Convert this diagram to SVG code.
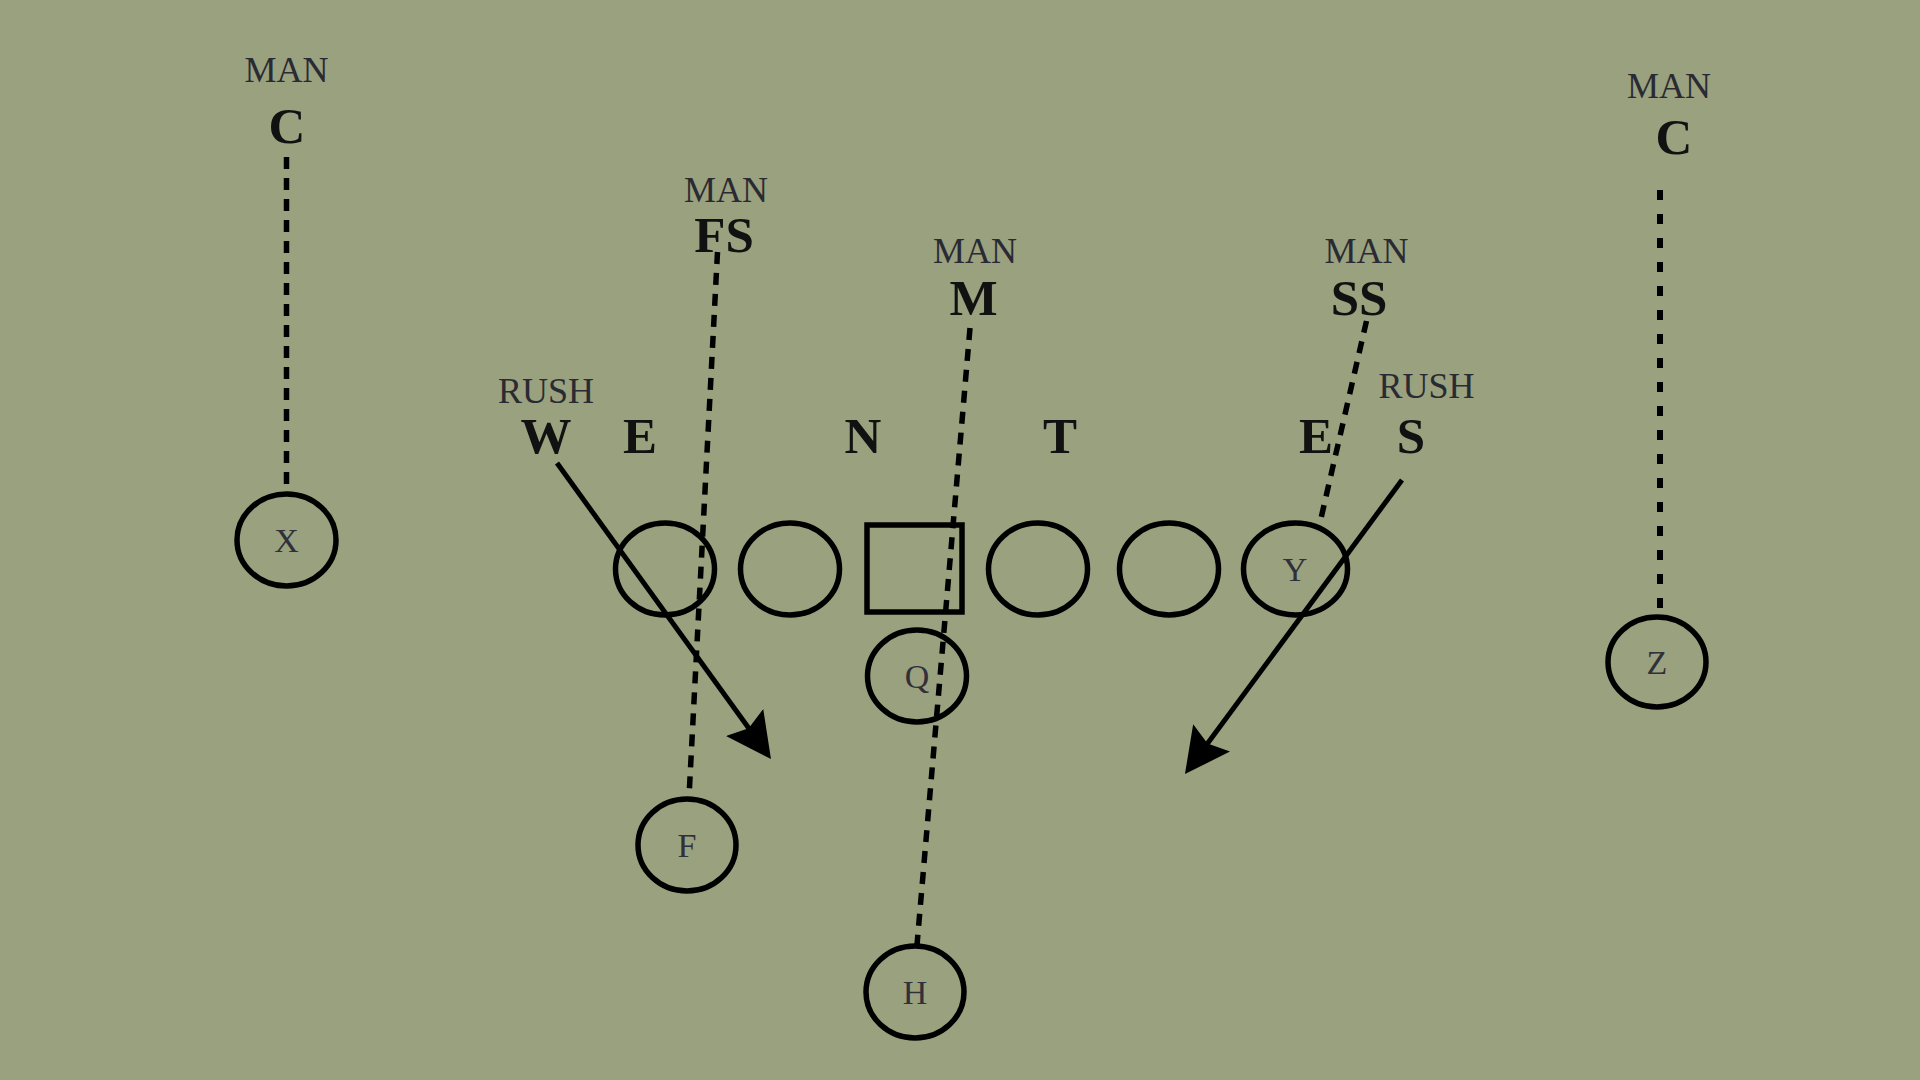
<svg xmlns="http://www.w3.org/2000/svg" width="1920" height="1080" viewBox="0 0 1920 1080">
<defs>
<style>
.bg{fill:#9aa17e}
.p{fill:none;stroke:#000;stroke-width:5.5}
.cap{font-family:"Liberation Serif",serif;font-size:36px;fill:#2a2a33;text-anchor:middle}
.pos{font-family:"Liberation Serif",serif;font-size:51px;font-weight:bold;fill:#111;text-anchor:middle}
.lbl{font-family:"Liberation Serif",serif;font-size:34px;fill:#30303a;text-anchor:middle}
.dash{fill:none;stroke:#000;stroke-width:5.5;stroke-dasharray:12 9}
.dot{fill:none;stroke:#000;stroke-width:6;stroke-dasharray:10 14}
.arr{fill:none;stroke:#000;stroke-width:5;marker-end:url(#ah)}
</style>
<marker id="ah" viewBox="0 0 45 46" refX="35" refY="23" markerWidth="45" markerHeight="46" markerUnits="userSpaceOnUse" orient="auto">
<path d="M0,0 L45,23 L0,46 L7,23 z" fill="#000"/>
</marker>
</defs>
<rect class="bg" x="0" y="0" width="1920" height="1080"/>

<g id="connectors">
<line class="dash" x1="286.5" y1="157" x2="286.5" y2="492"/>
<line class="dash" x1="717.5" y1="252" x2="689" y2="797"/>
<line class="dash" x1="970" y1="328" x2="917" y2="945"/>
<line class="dash" x1="1366.5" y1="321" x2="1319" y2="527"/>
<line class="dot" x1="1660" y1="190" x2="1660" y2="610"/>
<line class="arr" x1="557" y1="463" x2="765.1" y2="750.9"/>
<line class="arr" x1="1402" y1="480" x2="1190.9" y2="766"/>
</g>

<g id="cb-left">
<text class="cap" x="286.5" y="82">MAN</text>
<text class="pos" x="287" y="143">C</text>
</g>
<g id="fs">
<text class="cap" x="726" y="202">MAN</text>
<text class="pos" x="724" y="252">FS</text>
</g>
<g id="mlb">
<text class="cap" x="975" y="263">MAN</text>
<text class="pos" x="973.5" y="315">M</text>
</g>
<g id="ss">
<text class="cap" x="1366.5" y="263">MAN</text>
<text class="pos" x="1359" y="315">SS</text>
</g>
<g id="cb-right">
<text class="cap" x="1669" y="98">MAN</text>
<text class="pos" x="1674" y="154">C</text>
</g>
<g id="w">
<text class="cap" x="546" y="403">RUSH</text>
<text class="pos" x="546" y="453">W</text>
</g>
<g id="e-left"><text class="pos" x="640" y="453">E</text></g>
<g id="n"><text class="pos" x="863" y="453">N</text></g>
<g id="t"><text class="pos" x="1060" y="453">T</text></g>
<g id="e-right"><text class="pos" x="1316" y="453">E</text></g>
<g id="s">
<text class="cap" x="1426.5" y="398">RUSH</text>
<text class="pos" x="1411" y="453">S</text>
</g>

<g id="x"><ellipse class="p" cx="286.5" cy="540" rx="49.5" ry="46"/><text class="lbl" x="286.5" y="552">X</text></g>
<g id="lt"><ellipse class="p" cx="665" cy="569" rx="49.5" ry="46"/></g>
<g id="lg"><ellipse class="p" cx="790" cy="569" rx="49.5" ry="46"/></g>
<g id="center"><rect class="p" x="867" y="525" width="95" height="87" stroke-width="6"/></g>
<g id="rg"><ellipse class="p" cx="1038" cy="569" rx="49.5" ry="46"/></g>
<g id="rt"><ellipse class="p" cx="1169" cy="569" rx="49.5" ry="46"/></g>
<g id="y"><ellipse class="p" cx="1295.5" cy="569" rx="52" ry="46"/><text class="lbl" x="1295" y="581">Y</text></g>
<g id="q"><ellipse class="p" cx="917" cy="676" rx="49.5" ry="46"/><text class="lbl" x="917" y="688">Q</text></g>
<g id="f"><ellipse class="p" cx="687" cy="845" rx="49" ry="46"/><text class="lbl" x="687" y="857">F</text></g>
<g id="h"><ellipse class="p" cx="915" cy="992" rx="49" ry="46"/><text class="lbl" x="915" y="1004">H</text></g>
<g id="z"><ellipse class="p" cx="1657" cy="662" rx="49" ry="45"/><text class="lbl" x="1657" y="674">Z</text></g>
</svg>
